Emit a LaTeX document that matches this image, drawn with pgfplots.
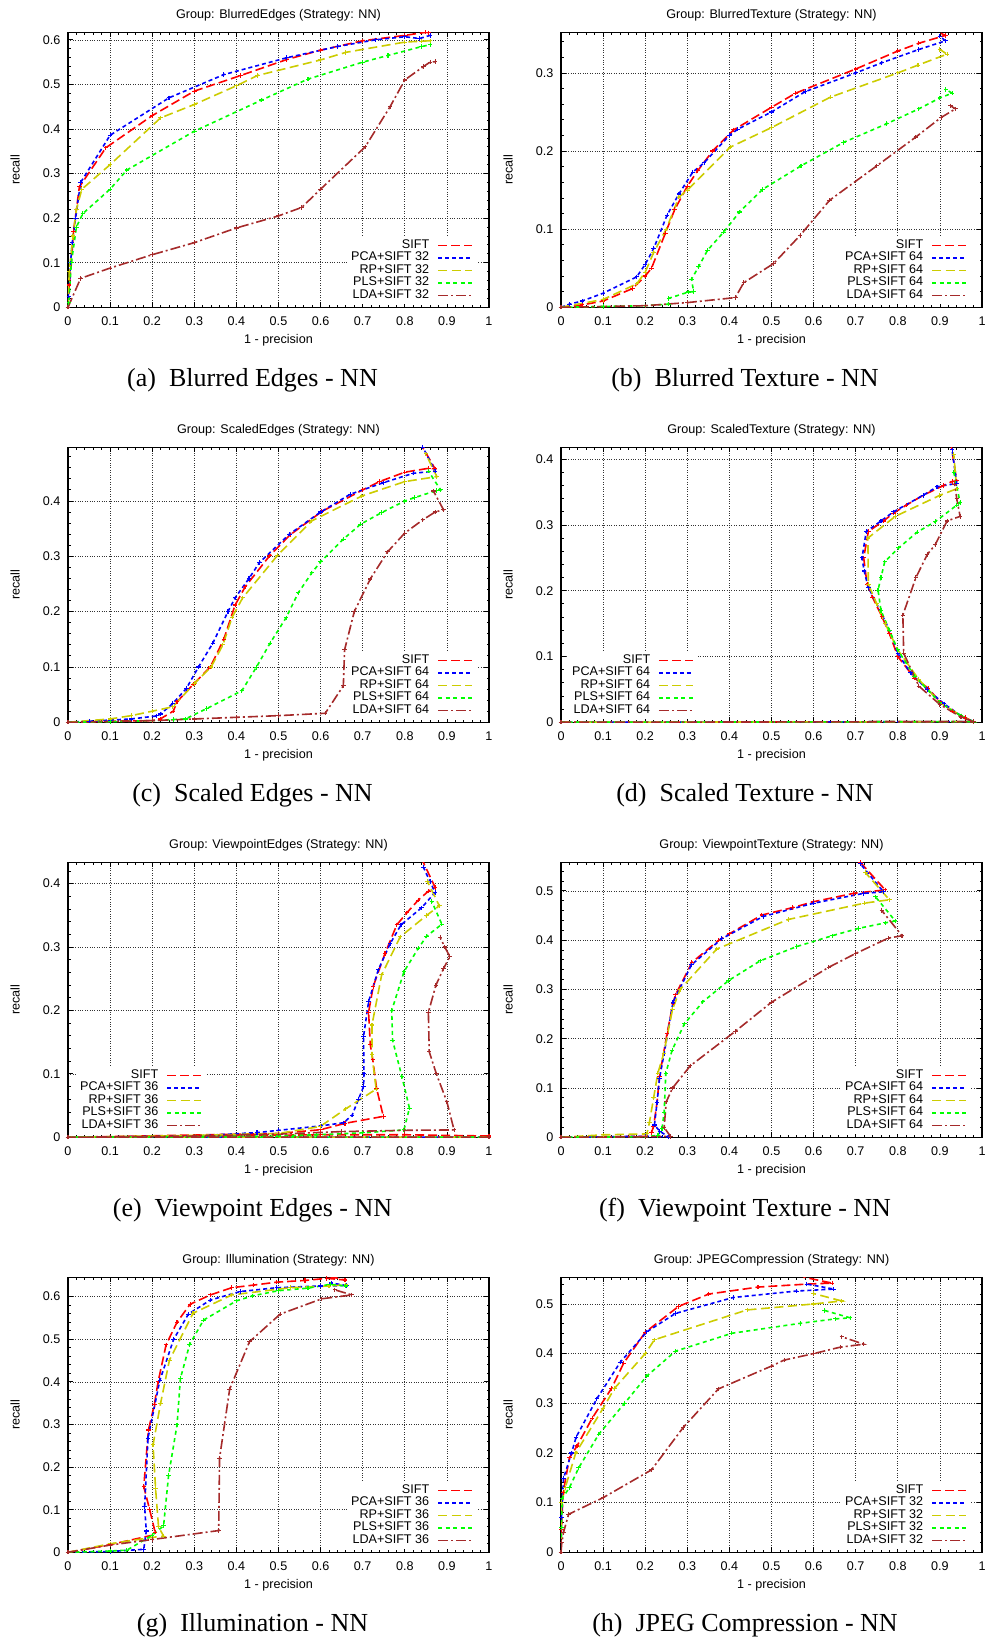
\documentclass[border=0pt]{standalone}
\usepackage{fontspec}
\setmainfont{Liberation Sans}
\newfontfamily\capfont{Liberation Serif}
\usepackage{pgfplots}
\pgfplotsset{compat=1.18}
\definecolor{cSIFT}{RGB}{255,0,0}
\definecolor{cPCA}{RGB}{0,0,255}
\definecolor{cRP}{RGB}{204,204,0}
\definecolor{cPLS}{RGB}{0,255,0}
\definecolor{cLDA}{RGB}{165,42,42}
\newcommand\axfont{\fontsize{12.6}{13}\selectfont}
\newcommand\capf{\capfont\fontsize{26}{28}\selectfont}
\pgfplotsset{
  panel/.style={
    scale only axis, width=421pt, height=275pt,
    anchor=south west,
    xmin=0, xmax=1, ymin=0,
    xtick={0,0.1,0.2,0.3,0.4,0.5,0.6,0.7,0.8,0.9,1},
    ytick={0,0.1,0.2,0.3,0.4,0.5,0.6},
    minor tick num=4,
    tick align=inside,
    major tick length=5pt, minor tick length=2.5pt,
    tick style={black, line width=0.8pt},
    grid=major,
    major grid style={black!80, dotted, line width=0.7pt},
    axis line style={line width=1.3pt},
    /pgf/number format/assume math mode=true,
    tick label style={font=\axfont},
    xticklabel style={anchor=center, yshift=-13.4pt},
    yticklabel style={xshift=-4pt},
    xlabel={1 - precision},
    ylabel={recall},
    every axis x label/.style={font=\axfont, at={(axis description cs:0.5,0)}, anchor=center, yshift=-33pt},
    every axis y label/.style={font=\axfont, at={(axis description cs:0,0.5)}, xshift=-53pt, anchor=center, rotate=90},
    every axis title shift=0pt,
    every axis title/.style={font=\axfont, at={(axis description cs:0.5,1)}, anchor=base, yshift=14pt},
    legend plot pos=right,
    legend cell align=right,
    legend image code/.code={\draw[##1] (0pt,0pt) -- (34pt,0pt);},
    legend style={font=\axfont, draw=none, fill=white, inner xsep=4pt, inner ysep=2pt,
       nodes={inner sep=0pt, text height=9pt, text depth=3.5pt},
       /tikz/every odd column/.style={column sep=8pt}},
  },
  legR/.style={legend style={at={(axis description cs:#1,0.012)}, anchor=south east}},
  base/.style={line width=1.6pt, mark=+, mark size=2.2pt, mark options={solid, line width=1.1pt}},
  sSIFT/.style={base, color=cSIFT, dash pattern=on 9pt off 4pt},
  sPCA/.style={base, color=cPCA, dash pattern=on 4pt off 3pt},
  sRP/.style={base, color=cRP, dash pattern=on 9pt off 4.5pt},
  sPLS/.style={base, color=cPLS, dash pattern=on 4pt off 3.5pt},
  sLDA/.style={base, color=cLDA, dash pattern=on 10pt off 3pt on 2pt off 3pt},
}
\begin{document}
\begin{tikzpicture}
\useasboundingbox (0,0) rectangle (989pt,1642pt);
% (a)
\begin{axis}[panel, at={(68pt,1334.7pt)}, ymax=0.617, title={Group: BlurredEdges (Strategy: NN)}, legR=0.9715]
\addplot[sSIFT] coordinates {(0,0) (0.003,0.05) (0.008,0.1) (0.013,0.17) (0.027,0.27) (0.09,0.358) (0.2,0.43) (0.3,0.485) (0.41,0.52) (0.52,0.556) (0.6,0.577) (0.7,0.598) (0.8,0.61) (0.85,0.617) (0.857,0.616)};
\addlegendentry{SIFT}
\addplot[sPCA] coordinates {(0,0) (0.002,0.025) (0.006,0.1) (0.01,0.145) (0.018,0.2) (0.03,0.28) (0.1,0.386) (0.24,0.47) (0.37,0.522) (0.52,0.56) (0.64,0.585) (0.73,0.6) (0.8,0.607) (0.835,0.603) (0.86,0.61)};
\addlegendentry{PCA+SIFT 32}
\addplot[sRP] coordinates {(0,0) (0.003,0.08) (0.012,0.16) (0.02,0.22) (0.033,0.265) (0.1,0.32) (0.22,0.425) (0.3,0.455) (0.4,0.497) (0.45,0.52) (0.6,0.555) (0.66,0.572) (0.8,0.595) (0.84,0.597) (0.86,0.598)};
\addlegendentry{RP+SIFT 32}
\addplot[sPLS] coordinates {(0,0) (0.002,0.01) (0.008,0.1) (0.02,0.18) (0.035,0.21) (0.1,0.265) (0.14,0.308) (0.3,0.395) (0.46,0.465) (0.57,0.512) (0.7,0.55) (0.76,0.565) (0.84,0.585) (0.86,0.589)};
\addlegendentry{PLS+SIFT 32}
\addplot[sLDA] coordinates {(0,0) (0.03,0.065) (0.1,0.088) (0.2,0.118) (0.3,0.145) (0.4,0.178) (0.5,0.205) (0.555,0.224) (0.6,0.265) (0.706,0.36) (0.765,0.45) (0.8,0.51) (0.844,0.54) (0.86,0.55) (0.872,0.551)};
\addlegendentry{LDA+SIFT 32}
\end{axis}
% (b)
\begin{axis}[panel, at={(561pt,1334.7pt)}, ymax=0.352, title={Group: BlurredTexture (Strategy: NN)}, legR=0.974]
\addplot[sSIFT] coordinates {(0,0) (0.05,0.003) (0.1,0.008) (0.17,0.024) (0.2,0.04) (0.215,0.05) (0.248,0.095) (0.27,0.125) (0.3,0.155) (0.325,0.175) (0.36,0.2) (0.41,0.227) (0.5,0.256) (0.557,0.274) (0.7,0.305) (0.8,0.328) (0.85,0.338) (0.913,0.348) (0.893,0.353)};
\addlegendentry{SIFT}
\addplot[sPCA] coordinates {(0,0) (0.02,0.004) (0.05,0.008) (0.1,0.018) (0.18,0.039) (0.2,0.055) (0.22,0.075) (0.252,0.118) (0.28,0.145) (0.313,0.173) (0.34,0.185) (0.4,0.22) (0.42,0.228) (0.5,0.25) (0.58,0.276) (0.7,0.3) (0.762,0.313) (0.85,0.33) (0.913,0.341) (0.9,0.347)};
\addlegendentry{PCA+SIFT 64}
\addplot[sRP] coordinates {(0,0) (0.1,0.01) (0.18,0.03) (0.2,0.045) (0.22,0.07) (0.25,0.1) (0.28,0.141) (0.3,0.15) (0.402,0.205) (0.5,0.23) (0.64,0.269) (0.8,0.3) (0.848,0.31) (0.917,0.324) (0.9,0.33)};
\addlegendentry{RP+SIFT 64}
\addplot[sPLS] coordinates {(0,0) (0.1,0.001) (0.2,0.002) (0.255,0.004) (0.256,0.0115) (0.303,0.0196) (0.315,0.02) (0.31,0.036) (0.327,0.052) (0.348,0.073) (0.386,0.096) (0.424,0.122) (0.479,0.151) (0.57,0.181) (0.671,0.211) (0.774,0.235) (0.85,0.254) (0.9,0.268) (0.929,0.274) (0.914,0.279)};
\addlegendentry{PLS+SIFT 64}
\addplot[sLDA] coordinates {(0,0) (0.2,0.002) (0.3,0.006) (0.414,0.0124) (0.434,0.0315) (0.505,0.056) (0.568,0.092) (0.638,0.137) (0.75,0.181) (0.843,0.218) (0.903,0.243) (0.937,0.254) (0.925,0.258)};
\addlegendentry{LDA+SIFT 64}
\end{axis}
% (c)
\begin{axis}[panel, at={(68pt,919.7pt)}, ymax=0.497, title={Group: ScaledEdges (Strategy: NN)}, legR=0.9715]
\addplot[sSIFT] coordinates {(0,0) (0.1,0.002) (0.2,0.003) (0.219,0.006) (0.25,0.02) (0.259,0.037) (0.298,0.069) (0.338,0.1) (0.37,0.15) (0.397,0.212) (0.421,0.245) (0.479,0.301) (0.528,0.339) (0.603,0.381) (0.7,0.42) (0.74,0.435) (0.8,0.452) (0.856,0.459) (0.872,0.458) (0.84,0.5)};
\addlegendentry{SIFT}
\addplot[sPCA] coordinates {(0,0) (0.05,0.002) (0.1,0.004) (0.15,0.006) (0.211,0.0115) (0.22,0.015) (0.249,0.034) (0.281,0.061) (0.31,0.1) (0.344,0.143) (0.38,0.2) (0.397,0.225) (0.43,0.26) (0.455,0.289) (0.526,0.34) (0.6,0.38) (0.67,0.412) (0.749,0.433) (0.82,0.45) (0.872,0.454) (0.843,0.497)};
\addlegendentry{PCA+SIFT 64}
\addplot[sRP] coordinates {(0,0) (0.1,0.006) (0.15,0.012) (0.2,0.02) (0.249,0.028) (0.3,0.07) (0.34,0.1) (0.368,0.14) (0.39,0.19) (0.415,0.225) (0.498,0.302) (0.579,0.364) (0.698,0.409) (0.8,0.435) (0.876,0.444) (0.85,0.485)};
\addlegendentry{RP+SIFT 64}
\addplot[sPLS] coordinates {(0,0) (0.1,0.001) (0.2,0.003) (0.25,0.005) (0.279,0.006) (0.33,0.025) (0.413,0.057) (0.447,0.099) (0.48,0.143) (0.518,0.189) (0.547,0.234) (0.579,0.27) (0.6,0.29) (0.654,0.331) (0.695,0.358) (0.745,0.379) (0.8,0.4) (0.823,0.406) (0.876,0.419) (0.885,0.42) (0.856,0.454)};
\addlegendentry{PLS+SIFT 64}
\addplot[sLDA] coordinates {(0,0) (0.2,0.003) (0.3,0.006) (0.4,0.009) (0.5,0.012) (0.611,0.0163) (0.654,0.066) (0.657,0.131) (0.68,0.2) (0.718,0.259) (0.759,0.308) (0.8,0.342) (0.843,0.366) (0.872,0.38) (0.892,0.384) (0.868,0.418)};
\addlegendentry{LDA+SIFT 64}
\end{axis}
% (d)
\begin{axis}[panel, at={(561pt,919.7pt)}, ymax=0.418, title={Group: ScaledTexture (Strategy: NN)}, legR=0.3254]
\addplot[sSIFT] coordinates {(0,0) (0.98,0.001) (0.96,0.007) (0.93,0.017) (0.9,0.031) (0.872,0.052) (0.84,0.067) (0.8,0.1) (0.78,0.135) (0.762,0.161) (0.74,0.19) (0.727,0.21) (0.719,0.25) (0.73,0.29) (0.766,0.306) (0.79,0.318) (0.82,0.33) (0.86,0.345) (0.909,0.36) (0.929,0.366) (0.94,0.367) (0.927,0.42)};
\addlegendentry{SIFT}
\addplot[sPCA] coordinates {(0,0) (0.98,0.001) (0.95,0.01) (0.91,0.028) (0.87,0.05) (0.83,0.075) (0.8,0.105) (0.78,0.14) (0.75,0.18) (0.73,0.205) (0.72,0.23) (0.715,0.25) (0.725,0.29) (0.76,0.306) (0.79,0.32) (0.86,0.345) (0.893,0.358) (0.94,0.363) (0.929,0.414)};
\addlegendentry{PCA+SIFT 64}
\addplot[sRP] coordinates {(0,0) (0.98,0.001) (0.95,0.01) (0.9,0.03) (0.85,0.065) (0.8,0.11) (0.77,0.15) (0.75,0.18) (0.73,0.21) (0.729,0.28) (0.794,0.313) (0.9,0.345) (0.94,0.355) (0.933,0.407)};
\addlegendentry{RP+SIFT 64}
\addplot[sPLS] coordinates {(0,0) (0.98,0.001) (0.95,0.01) (0.9,0.03) (0.84,0.07) (0.8,0.11) (0.78,0.14) (0.76,0.17) (0.753,0.201) (0.76,0.22) (0.769,0.244) (0.802,0.265) (0.846,0.289) (0.889,0.305) (0.94,0.33) (0.948,0.334) (0.933,0.38)};
\addlegendentry{PLS+SIFT 64}
\addplot[sLDA] coordinates {(0,0) (0.98,0.001) (0.95,0.008) (0.9,0.027) (0.85,0.055) (0.814,0.105) (0.812,0.163) (0.843,0.22) (0.87,0.255) (0.889,0.27) (0.917,0.306) (0.948,0.313) (0.94,0.34) (0.935,0.362)};
\addlegendentry{LDA+SIFT 64}
\end{axis}
% (e)
\begin{axis}[panel, at={(68pt,504.7pt)}, ymax=0.4336, title={Group: ViewpointEdges (Strategy: NN)}, legR=0.328]
\addplot[sSIFT] coordinates {(1,0.002) (0.8,0.004) (0.6,0.004) (0.3,0.002) (0,0) (0.5,0.006) (0.6,0.012) (0.658,0.022) (0.749,0.033) (0.733,0.077) (0.724,0.122) (0.718,0.146) (0.714,0.197) (0.725,0.238) (0.753,0.29) (0.781,0.335) (0.805,0.354) (0.832,0.374) (0.856,0.388) (0.872,0.394) (0.843,0.435)};
\addlegendentry{SIFT}
\addplot[sPCA] coordinates {(1,0) (0,0) (0.3,0.002) (0.449,0.0074) (0.5,0.011) (0.601,0.018) (0.655,0.023) (0.675,0.035) (0.69,0.06) (0.702,0.08) (0.703,0.1) (0.702,0.159) (0.714,0.214) (0.737,0.264) (0.765,0.305) (0.791,0.335) (0.84,0.362) (0.872,0.386) (0.86,0.403) (0.844,0.426)};
\addlegendentry{PCA+SIFT 36}
\addplot[sRP] coordinates {(1,0) (0,0) (0.3,0.003) (0.5,0.006) (0.599,0.017) (0.66,0.045) (0.732,0.076) (0.722,0.13) (0.722,0.177) (0.745,0.256) (0.789,0.316) (0.852,0.35) (0.882,0.365) (0.854,0.403)};
\addlegendentry{RP+SIFT 36}
\addplot[sPLS] coordinates {(1,0) (0,0) (0.5,0.002) (0.59,0.004) (0.7,0.007) (0.798,0.0116) (0.811,0.046) (0.793,0.096) (0.771,0.153) (0.769,0.2) (0.798,0.261) (0.832,0.298) (0.852,0.317) (0.888,0.336) (0.864,0.372)};
\addlegendentry{PLS+SIFT 36}
\addplot[sLDA] coordinates {(1,0) (0,0) (0.3,0.002) (0.5,0.005) (0.65,0.009) (0.8,0.011) (0.917,0.0116) (0.9,0.056) (0.875,0.1) (0.858,0.135) (0.856,0.197) (0.874,0.24) (0.892,0.266) (0.907,0.285) (0.895,0.3) (0.884,0.315)};
\addlegendentry{LDA+SIFT 36}
\end{axis}
% (f)
\begin{axis}[panel, at={(561pt,504.7pt)}, ymax=0.558, title={Group: ViewpointTexture (Strategy: NN)}, legR=0.974]
\addplot[sSIFT] coordinates {(0,0) (0.2,0.002) (0.215,0.01) (0.22,0.022) (0.228,0.07) (0.234,0.124) (0.252,0.211) (0.266,0.272) (0.272,0.289) (0.311,0.355) (0.375,0.4) (0.4,0.413) (0.477,0.451) (0.55,0.466) (0.6,0.478) (0.695,0.495) (0.77,0.502) (0.711,0.558)};
\addlegendentry{SIFT}
\addplot[sPCA] coordinates {(0,0) (0.2,0.002) (0.255,0.001) (0.235,0.012) (0.222,0.025) (0.228,0.07) (0.234,0.12) (0.245,0.17) (0.266,0.274) (0.31,0.35) (0.382,0.403) (0.48,0.448) (0.6,0.475) (0.719,0.495) (0.766,0.498) (0.711,0.555)};
\addlegendentry{PCA+SIFT 64}
\addplot[sRP] coordinates {(0,0) (0.1,0.005) (0.204,0.0068) (0.21,0.03) (0.22,0.08) (0.23,0.13) (0.244,0.17) (0.265,0.26) (0.283,0.3) (0.37,0.382) (0.54,0.442) (0.72,0.475) (0.78,0.482) (0.723,0.537)};
\addlegendentry{RP+SIFT 64}
\addplot[sPLS] coordinates {(0,0) (0.2,0.001) (0.23,0.004) (0.24,0.018) (0.245,0.05) (0.249,0.13) (0.264,0.177) (0.293,0.23) (0.337,0.275) (0.398,0.318) (0.473,0.358) (0.56,0.387) (0.644,0.409) (0.707,0.424) (0.77,0.435) (0.794,0.439) (0.747,0.488)};
\addlegendentry{PLS+SIFT 64}
\addplot[sLDA] coordinates {(0,0) (0.2,0.001) (0.26,0.002) (0.245,0.02) (0.25,0.072) (0.265,0.1) (0.307,0.145) (0.414,0.215) (0.5,0.274) (0.636,0.345) (0.7,0.373) (0.777,0.404) (0.81,0.409) (0.762,0.46)};
\addlegendentry{LDA+SIFT 64}
\end{axis}
% (g)
\begin{axis}[panel, at={(68pt,89.7pt)}, ymax=0.6454, title={Group: Illumination (Strategy: NN)}, legR=0.9715]
\addplot[sSIFT] coordinates {(0,0) (0.1,0.018) (0.2,0.04) (0.207,0.047) (0.194,0.1) (0.18,0.154) (0.191,0.287) (0.205,0.346) (0.214,0.4) (0.233,0.487) (0.259,0.54) (0.29,0.582) (0.338,0.604) (0.389,0.621) (0.44,0.627) (0.496,0.634) (0.563,0.638) (0.615,0.643) (0.658,0.639) (0.62,0.648)};
\addlegendentry{SIFT}
\addplot[sPCA] coordinates {(0,0) (0.1,0.002) (0.18,0.007) (0.186,0.05) (0.182,0.107) (0.19,0.268) (0.218,0.403) (0.251,0.5) (0.286,0.559) (0.338,0.592) (0.409,0.612) (0.496,0.621) (0.6,0.625) (0.662,0.626) (0.625,0.632)};
\addlegendentry{PCA+SIFT 36}
\addplot[sRP] coordinates {(0,0) (0.1,0.02) (0.2,0.035) (0.227,0.038) (0.215,0.06) (0.208,0.15) (0.202,0.252) (0.22,0.35) (0.241,0.451) (0.297,0.561) (0.389,0.604) (0.528,0.621) (0.62,0.625) (0.66,0.628)};
\addlegendentry{RP+SIFT 36}
\addplot[sPLS] coordinates {(0,0) (0.1,0.003) (0.14,0.005) (0.2,0.04) (0.227,0.062) (0.239,0.181) (0.259,0.299) (0.267,0.408) (0.289,0.488) (0.322,0.545) (0.4,0.59) (0.439,0.602) (0.5,0.614) (0.57,0.62) (0.623,0.629) (0.66,0.625)};
\addlegendentry{PLS+SIFT 36}
\addplot[sLDA] coordinates {(0,0) (0.1,0.017) (0.2,0.03) (0.358,0.051) (0.36,0.221) (0.384,0.383) (0.431,0.494) (0.504,0.559) (0.603,0.595) (0.674,0.604) (0.634,0.616)};
\addlegendentry{LDA+SIFT 36}
\end{axis}
% (h)
\begin{axis}[panel, at={(561pt,89.7pt)}, ymax=0.5537, title={Group: JPEGCompression (Strategy: NN)}, legR=0.974]
\addplot[sSIFT] coordinates {(0,0) (0.001,0.045) (0.005,0.12) (0.02,0.19) (0.038,0.214) (0.074,0.27) (0.12,0.33) (0.149,0.381) (0.2,0.443) (0.279,0.495) (0.351,0.52) (0.468,0.534) (0.584,0.54) (0.644,0.542) (0.576,0.554)};
\addlegendentry{SIFT}
\addplot[sPCA] coordinates {(0,0) (0.001,0.07) (0.006,0.149) (0.025,0.2) (0.036,0.232) (0.085,0.309) (0.141,0.383) (0.204,0.444) (0.272,0.481) (0.409,0.513) (0.559,0.526) (0.648,0.53) (0.584,0.54)};
\addlegendentry{PCA+SIFT 32}
\addplot[sRP] coordinates {(0,0) (0.001,0.1) (0.01,0.13) (0.035,0.2) (0.1,0.29) (0.127,0.33) (0.2,0.4) (0.222,0.428) (0.442,0.488) (0.6,0.5) (0.667,0.506) (0.6,0.521)};
\addlegendentry{RP+SIFT 32}
\addplot[sPLS] coordinates {(0,0) (0.001,0.05) (0.003,0.109) (0.02,0.13) (0.042,0.17) (0.09,0.238) (0.151,0.3) (0.204,0.355) (0.272,0.405) (0.406,0.441) (0.568,0.461) (0.652,0.47) (0.687,0.472) (0.626,0.487)};
\addlegendentry{PLS+SIFT 32}
\addplot[sLDA] coordinates {(0,0) (0.002,0.02) (0.006,0.04) (0.018,0.0765) (0.1,0.11) (0.215,0.166) (0.29,0.251) (0.374,0.329) (0.5,0.375) (0.53,0.387) (0.6,0.4) (0.663,0.413) (0.719,0.419) (0.667,0.434)};
\addlegendentry{LDA+SIFT 32}
\end{axis}
\node[anchor=base, font=\capf] at (252.5pt,1255.3pt) {(a)\hspace{0.5em}Blurred Edges - NN};
\node[anchor=base, font=\capf] at (745pt,1255.3pt) {(b)\hspace{0.5em}Blurred Texture - NN};
\node[anchor=base, font=\capf] at (252.5pt,840.3pt) {(c)\hspace{0.5em}Scaled Edges - NN};
\node[anchor=base, font=\capf] at (745pt,840.3pt) {(d)\hspace{0.5em}Scaled Texture - NN};
\node[anchor=base, font=\capf] at (252.5pt,425.3pt) {(e)\hspace{0.5em}Viewpoint Edges - NN};
\node[anchor=base, font=\capf] at (745pt,425.3pt) {(f)\hspace{0.5em}Viewpoint Texture - NN};
\node[anchor=base, font=\capf] at (252.5pt,10.3pt) {(g)\hspace{0.5em}Illumination - NN};
\node[anchor=base, font=\capf] at (745pt,10.3pt) {(h)\hspace{0.5em}JPEG Compression - NN};
\end{tikzpicture}
\end{document}
